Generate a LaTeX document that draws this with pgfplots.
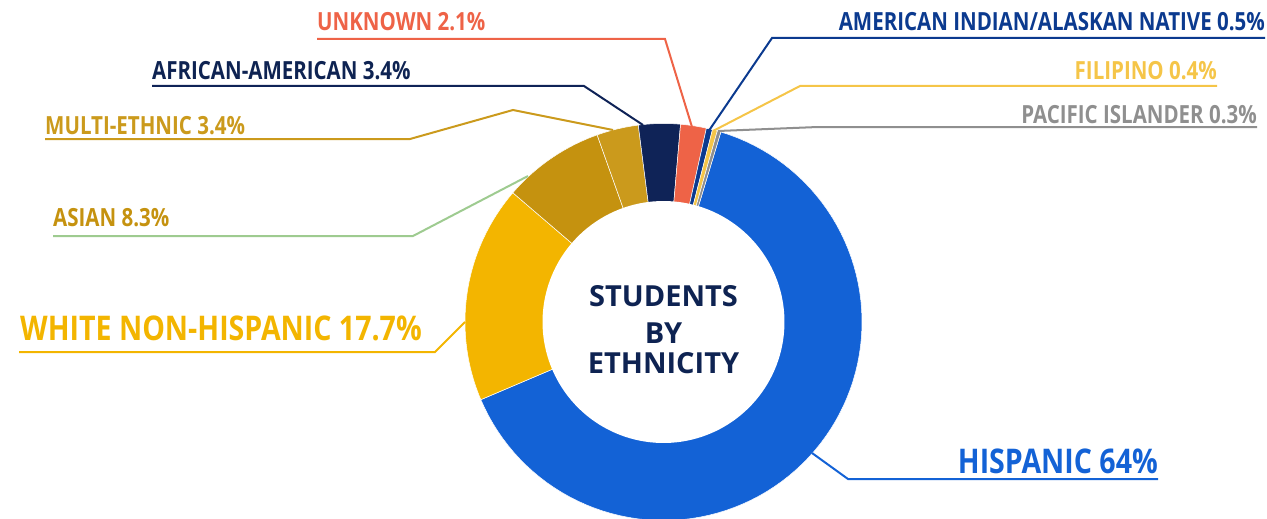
\documentclass[border=0pt]{standalone}
\usepackage{pgfplots}
\pgfplotsset{compat=1.18}
\usepackage{pgfplotstable}
\usepackage{fontspec}
\setmainfont{Open Sans}
\newfontfamily\labfont[FakeStretch=0.82]{Open Sans}
\newfontfamily\bigfont[FakeStretch=0.84]{Open Sans}

\definecolor{c0}{HTML}{1362D6}
\definecolor{c1}{HTML}{F3B500}
\definecolor{c2}{HTML}{C5920F}
\definecolor{c3}{HTML}{CB9A1C}
\definecolor{c4}{HTML}{0F2357}
\definecolor{c5}{HTML}{EE6347}
\definecolor{c6}{HTML}{0B3A8F}
\definecolor{c7}{HTML}{F5C548}
\definecolor{c8}{HTML}{8F8F8F}
\definecolor{asianline}{HTML}{9ECB90}
\definecolor{navytext}{HTML}{0E2352}

\pgfplotstableread{
label value
Hispanic 64
White 17.7
Asian 8.3
Multi 3.4
African 3.4
Unknown 2.1
AmInd 0.5
Filipino 0.4
Pacific 0.3
}\ethtable

\begin{document}
\begin{tikzpicture}
\useasboundingbox (0,0) rectangle (1267pt,519pt);
% cumulative angles (bearing, clockwise from top)
\def\cum{0}
\pgfplotsforeachungrouped \i in {0,...,8}{%
  \pgfplotstablegetelem{\i}{value}\of\ethtable
  \pgfmathsetmacro\tmp{\cum+\pgfplotsretval}\global\let\cum\tmp}
\def\run{0}
\pgfplotsforeachungrouped \i in {0,...,8}{%
  \pgfplotstablegetelem{\i}{value}\of\ethtable
  \pgfmathsetmacro\aS{16.8+360*(\run/\cum)}%
  \pgfmathsetmacro\newrun{\run+\pgfplotsretval}%
  \pgfmathsetmacro\aE{16.8+360*(\newrun/\cum)}%
  \expandafter\xdef\csname aS\i\endcsname{\aS}%
  \expandafter\xdef\csname aE\i\endcsname{\aE}%
  \global\let\run\newrun}
\begin{axis}[at={(0,0)}, anchor=south west, width=1267pt, height=519pt,
  scale only axis, xmin=0, xmax=1267, ymin=0, ymax=519, y dir=reverse,
  hide axis, clip=false]
\pgfplotsinvokeforeach{0,...,8}{%
  \addplot[fill=c#1, draw=white, line width=0.5pt, samples=90, variable=\t,
    domain=\csname aS#1\endcsname:\csname aE#1\endcsname]
    ({663.5+198.5*sin(\t)},{322-198.5*cos(\t)}) -- (663.5,322) -- cycle;
}
\addplot[fill=white, draw=none, samples=150, domain=0:360, variable=\t]
  ({663.5+121*sin(\t)},{322-121*cos(\t)}) -- cycle;

% leader lines
\addplot[c5, line width=2pt] coordinates {(317,39) (665,39) (692,127)};
\addplot[c6, line width=2pt] coordinates {(1265,38) (772,38) (708,132)};
\addplot[c4, line width=2pt] coordinates {(152,86) (584,86) (643,125)};
\addplot[c7, line width=2pt] coordinates {(1217,86) (800,86) (713,131)};
\addplot[c3, line width=2pt] coordinates {(45,139) (410,139) (513,110) (613,130)};
\addplot[c8, line width=2pt] coordinates {(1257,127) (818,127) (718,131)};
\addplot[asianline, line width=2pt] coordinates {(53,236) (413,236) (528,176)};
\addplot[c1, line width=2pt] coordinates {(19,352) (435,352) (465,322)};
\addplot[c0, line width=2pt] coordinates {(1158,479) (848,479) (812,453)};

% labels
\tikzset{lab/.style={inner sep=0pt, font=\labfont\bfseries\fontsize{25}{25}\selectfont},
         big/.style={inner sep=0pt, font=\bigfont\bfseries\fontsize{34}{34}\selectfont}}
\node[lab, anchor=base west, text=c5] at (axis cs:317,31) {UNKNOWN 2.1\%};
\node[lab, anchor=base east, text=c6] at (axis cs:1265,31) {AMERICAN INDIAN/ALASKAN NATIVE 0.5\%};
\node[lab, anchor=base west, text=navytext] at (axis cs:152,80) {AFRICAN-AMERICAN 3.4\%};
\node[lab, anchor=base east, text=c7] at (axis cs:1217,80) {FILIPINO 0.4\%};
\node[lab, anchor=base west, text=c3] at (axis cs:45,134) {MULTI-ETHNIC 3.4\%};
\node[lab, anchor=base east, text=c8] at (axis cs:1257,123) {PACIFIC ISLANDER 0.3\%};
\node[lab, anchor=base west, text=c2] at (axis cs:53,226) {ASIAN 8.3\%};
\node[big, anchor=base west, text=c1] at (axis cs:20,340) {WHITE NON-HISPANIC 17.7\%};
\node[big, anchor=base east, text=c0] at (axis cs:1158,473) {HISPANIC 64\%};

\node[inner sep=0pt, anchor=base, text=navytext, font=\bfseries\fontsize{29}{29}\selectfont] at (axis cs:663.5,306) {STUDENTS};
\node[inner sep=0pt, anchor=base, text=navytext, font=\bfseries\fontsize{29}{29}\selectfont] at (axis cs:663.5,343) {BY};
\node[inner sep=0pt, anchor=base, text=navytext, font=\bfseries\fontsize{29}{29}\selectfont] at (axis cs:663.5,373) {ETHNICITY};
\end{axis}
\end{tikzpicture}
\end{document}
